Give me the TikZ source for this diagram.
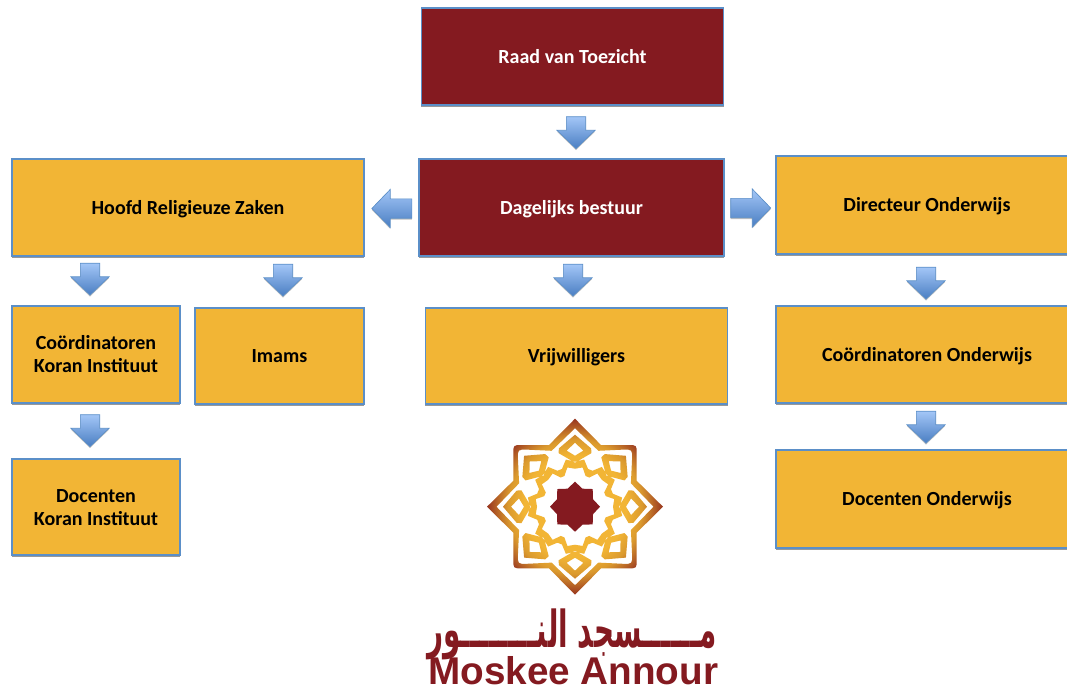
\documentclass[tikz,border=0pt]{standalone}
\usepackage{fontspec}
\setmainfont{Carlito}
\newfontfamily\arabicfont[Script=Arabic]{DejaVu Sans}
\newfontfamily\logofont{Liberation Sans}
\TeXXeTstate=1
\usetikzlibrary{shapes.arrows,shadows}
\definecolor{gold}{HTML}{F2B535}
\definecolor{wine}{HTML}{841A20}
\definecolor{edgeblue}{HTML}{5B8FC8}
\definecolor{logobrown}{HTML}{97341F}
\definecolor{logomid}{HTML}{DB9A2E}
\definecolor{arrowtop}{HTML}{A3C6F7}
\definecolor{arrowbottom}{HTML}{4A7EC2}
\pgfdeclareradialshading{logoshade}{\pgfpoint{0bp}{0bp}}{color(0bp)=(gold); color(14.5bp)=(gold); color(19bp)=(logomid); color(25bp)=(logobrown); color(50bp)=(logobrown)}
\newcommand\lineprop{\rule[-3pt]{0pt}{15.9pt}}
\tikzset{
  x=.75pt,y=-.75pt,
  orgbox/.style={rectangle,draw=edgeblue,line width=.9pt,fill=gold,align=center,inner sep=0pt,
    font=\fontsize{15}{17.2}\selectfont\bfseries,text=black,
    drop shadow={shadow xshift=0pt,shadow yshift=-1.6pt,opacity=.4,fill=black}},
  winebox/.style={orgbox,fill=wine,text=white},
  blockarrow/.style={single arrow,draw=edgeblue,line width=.5pt,top color=arrowtop,bottom color=arrowbottom,
    single arrow head extend=7pt,single arrow head indent=0pt,single arrow tip angle=92,
    inner sep=7pt,minimum height=24pt,
    drop shadow={shadow xshift=0pt,shadow yshift=-1pt,opacity=.25,fill=black}},
  downarrow/.style={blockarrow,shape border rotate=270},
  leftarrow/.style={blockarrow,shape border rotate=180,minimum height=30pt},
  rightarrow/.style={blockarrow,shape border rotate=0,minimum height=30pt},
}
\begin{document}
\begin{tikzpicture}
\clip (0,0) rectangle (1067,687);
\fill[white] (0,0) rectangle (1067,687);
% boxes
\node[winebox,minimum width=227pt,minimum height=72.7pt] (raad) at (572.5,56.5) {\lineprop Raad van Toezicht};
\node[winebox,minimum width=228.7pt,minimum height=72.7pt] (dag) at (571.5,207.5) {\lineprop Dagelijks bestuur};
\node[orgbox,minimum width=264pt,minimum height=72.7pt] (hoofd) at (188,207.5) {\lineprop Hoofd Religieuze Zaken};
\node[orgbox,minimum width=226.5pt,minimum height=73.5pt] (dir) at (927,205) {\lineprop Directeur Onderwijs};
\node[orgbox,minimum width=126pt,minimum height=72.7pt] (coki) at (96,354.5) {\lineprop Coördinatoren\\\lineprop Koran Instituut};
\node[orgbox,minimum width=126.7pt,minimum height=72pt] (imams) at (279.5,356) {\lineprop Imams};
\node[orgbox,minimum width=227pt,minimum height=72pt] (vrij) at (576.5,356) {\lineprop Vrijwilligers};
\node[orgbox,minimum width=226.5pt,minimum height=72.7pt] (coon) at (927,354.5) {\lineprop Coördinatoren Onderwijs};
\node[orgbox,minimum width=126pt,minimum height=72pt] (doki) at (96,507) {\lineprop Docenten\\\lineprop Koran Instituut};
\node[orgbox,minimum width=226.5pt,minimum height=73.5pt] (doon) at (927,499) {\lineprop Docenten Onderwijs};
% block arrows
\node[downarrow] (a1) at (576,128) {};
\node[leftarrow] (a2) at (396.5,208.5) {};
\node[rightarrow] (a3) at (746,208) {};
\node[downarrow] (a4) at (573,275.5) {};
\node[downarrow] (a5) at (90,274.5) {};
\node[downarrow] (a6) at (283,275.5) {};
\node[downarrow] (a7) at (926,278.5) {};
\node[downarrow] (a8) at (90,426) {};
\node[downarrow] (a9) at (926,422.5) {};
% logo
\begin{scope}[shift={(575,506.7)}]
\shade[shading=logoshade,even odd rule]
  (0:88)
  \foreach \a in {0,90,180,270}{
    -- ({\a+22.9}:66.9) -- ({\a+41}:81.7) .. controls ({\a+45}:87.1) .. ({\a+49}:81.7)
    -- ({\a+67.1}:66.9) -- ({\a+90}:88)
  } -- cycle
  (0:78.5)
  \foreach \a in {0,90,180,270}{
    -- ({\a+22.7}:60.6) -- ({\a+40}:74.5) .. controls ({\a+45}:81) .. ({\a+50}:74.5)
    -- ({\a+67.3}:60.6) -- ({\a+90}:78.5)
  } -- cycle
  \foreach \a in {0,45,...,315}{
    ({\a}:72) -- ({\a+15.5}:60.5) -- ({\a+17}:56) -- ({\a}:44) -- ({\a-17}:56) -- ({\a-15.5}:60.5) -- cycle
    ({\a}:64) -- ({\a+8.5}:56.7) -- ({\a}:51) -- ({\a-8.5}:56.7) -- cycle
  }
  (0:45)
  \foreach \a in {0,45,...,315}{
    -- ({\a+11}:48) -- ({\a+19}:40) -- ({\a+26}:40) -- ({\a+34}:48) -- ({\a+45}:45)
  } -- cycle
  (0:38)
  \foreach \a in {0,45,...,315}{
    -- ({\a+11}:40) -- ({\a+19}:32.5) -- ({\a+26}:32.5) -- ({\a+34}:40) -- ({\a+45}:38)
  } -- cycle;
\fill[wine] (0:25)
  \foreach \a in {0,45,...,315}{ -- ({\a+22.5}:19.5) -- ({\a+45}:25) } -- cycle;
\end{scope}
\node[text=wine,inner sep=0pt] (arabic) at (572,634)
  {\resizebox{217pt}{29pt}{\arabicfont\bfseries\beginR مــــــسجد النــــــــور\endR}};
\node[text=wine,inner sep=0pt,anchor=base west] (latin) at (428,684)
  {\resizebox{217.5pt}{!}{\logofont\bfseries\fontsize{30}{30}\selectfont Moskee Annour}};
\end{tikzpicture}
\end{document}
